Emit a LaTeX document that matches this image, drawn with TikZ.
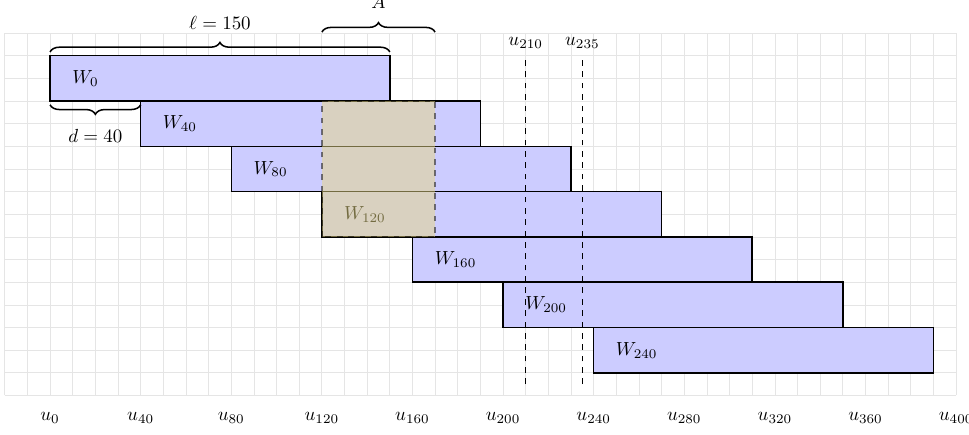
\documentclass[tikz,border=0pt]{standalone}
\usetikzlibrary{decorations.pathreplacing}
\definecolor{overlaptan}{RGB}{230,215,130}
\begin{document}
\begin{tikzpicture}[x=0.42cm, y=0.42cm]
    % Define styles
    \tikzstyle{window} = [draw=black, fill=blue!20, thick]
    \tikzstyle{winlabel} = [anchor=west, inner sep=2pt]
    \tikzstyle{curly} = [decorate, decoration={brace, amplitude=5pt, raise=2pt}, thick]
    \tikzstyle{cut} = [thick, dashed]

    \useasboundingbox (-2.21,-1.72) rectangle (40.57,17.46);
    \draw[step=1, gray!20, thin] (-2,0) grid (40,16);

    % Place windows
    \foreach \k [count=\i from 0] in {0,40,...,240} {
        \draw[window] (\k/10,15-2*\i) rectangle ++(15,-2);
        \node[winlabel] (w\k) at (\k/10+0.8,14-2*\i) {$W_{\k}$};
    }

    % Overlap region
    \coordinate (ovlow) at (12,7);
    \coordinate (ovhigh) at (17,13);
    \draw[dashed, thick, fill=overlaptan, opacity=0.5] (ovlow) rectangle (ovhigh);

    % Cut lines
    \coordinate (cuta) at (21,15);
    \coordinate (cutaend) at (21,0.5);
    \coordinate (cutb) at (23.5,15);
    \coordinate (cutbend) at (23.5,0.5);
    \draw[cut] (cutaend) -- (cuta) node[above] (ua) {$u_{210}$};
    \draw[cut] (cutbend) -- (cutb) node[above] (ub) {$u_{235}$};

    % Braces
    \coordinate (lleft) at (0,15);
    \coordinate (lright) at (15,15);
    \coordinate (aleft) at (12,16);
    \coordinate (aright) at (17,16);
    \coordinate (dleft) at (0,13);
    \coordinate (dright) at (4,13);
    \draw[curly] (lleft) -- (lright) node[midway, above=10pt] (ell) {$\ell = 150$};
    \draw[curly, decoration={raise=0.5pt}] (aleft) -- (aright) node[midway, above=9pt] (alab) {$A$};
    \draw[curly] (dright) -- (dleft) node[midway, below=11pt] (dlab) {$d = 40$};

    % Axis labels
    \foreach \k in {0,40,...,400}
        \node (u\k) at (\k/10,-1) {$u_{\k}$};
\end{tikzpicture}
\end{document}
